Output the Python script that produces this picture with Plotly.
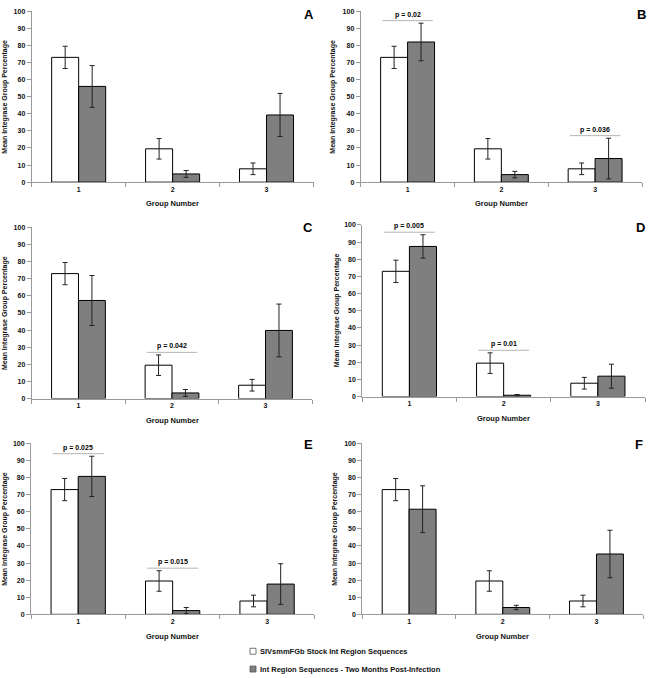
import plotly.graph_objects as go

# ---------------- data ----------------
groups = [1, 2, 3]
group_labels = ["1", "2", "3"]
panels = ["A", "B", "C", "D", "E", "F"]

stock_name = "SIVsmmFGb Stock Int Region Sequences"
post_name = "Int Region Sequences - Two Months Post-Infection"

stock_mean = [73.0, 19.5, 7.8]
stock_err = [6.5, 6.0, 3.4]

post_A = [56.0, 4.8, 39.3]
post_A_err = [12.2, 2.0, 12.6]
post_B = [82.0, 4.4, 13.8]
post_B_err = [11.0, 1.9, 11.9]
post_C = [57.3, 3.3, 39.8]
post_C_err = [14.6, 2.0, 15.4]
post_D = [87.5, 0.8, 11.9]
post_D_err = [6.8, 0.4, 7.0]
post_E = [80.7, 2.2, 17.7]
post_E_err = [11.8, 1.8, 11.9]
post_F = [61.5, 4.0, 35.3]
post_F_err = [13.7, 1.3, 13.9]

post_means = {"A": post_A, "B": post_B, "C": post_C, "D": post_D, "E": post_E, "F": post_F}
post_errs = {"A": post_A_err, "B": post_B_err, "C": post_C_err, "D": post_D_err,
             "E": post_E_err, "F": post_F_err}

p_groups = {"B": [1, 3], "C": [2], "D": [1, 2], "E": [1, 2]}
p_texts = {"B": ["p = 0.02", "p = 0.036"], "C": ["p = 0.042"],
           "D": ["p = 0.005", "p = 0.01"], "E": ["p = 0.025", "p = 0.015"]}

y_ticks = [0, 10, 20, 30, 40, 50, 60, 70, 80, 90, 100]

# ---------------- layout geometry (pixels) ----------------
W, H = 650, 678
# left, right, top(y=100), bottom(y=0)
boxes = {
    "A": (31.7, 313.5, 7.3, 180.0),
    "B": (360.7, 642.0, 7.3, 180.0),
    "C": (31.7, 312.3, 225.7, 398.7),
    "D": (362.3, 645.0, 223.3, 396.7),
    "E": (31.0, 314.3, 444.0, 616.7),
    "F": (362.3, 643.3, 444.0, 616.7),
}
letter_pos = {"A": (308.5, 10.5), "B": (641, 11), "C": (308.3, 226),
              "D": (640, 226), "E": (308, 445), "F": (639, 445)}
ytitle_x = {"A": 5, "B": 333, "C": 5, "D": 336.5, "E": 5, "F": 335}

FONT = "Liberation Sans, Arial, sans-serif"
AXIS_COLOR = "#9a9a9a"
BAR_GRAY = "#7f7f7f"
ERR_COLOR = "#222222"
TXT = "#111111"

fig = go.Figure()
shapes = []
annotations = []

for i, p in enumerate(panels):
    n = "" if i == 0 else str(i + 1)
    xa, ya = "x" + n, "y" + n
    fig.add_trace(go.Bar(
        x=groups, y=stock_mean, name=stock_name, xaxis=xa, yaxis=ya,
        marker=dict(color="white", line=dict(color="black", width=1)),
        error_y=dict(type="data", array=stock_err, color=ERR_COLOR, thickness=1, width=2.5),
        showlegend=False,
    ))
    fig.add_trace(go.Bar(
        x=groups, y=post_means[p], name=post_name, xaxis=xa, yaxis=ya,
        marker=dict(color=BAR_GRAY, line=dict(color="black", width=1)),
        error_y=dict(type="data", array=post_errs[p], color=ERR_COLOR, thickness=1, width=2.5),
        showlegend=False,
    ))
    l, r, t, b = boxes[p]
    xdom = [l / W, r / W]
    ydom = [1 - b / H, 1 - t / H]
    fig.update_layout(**{
        "xaxis" + n: dict(
            domain=xdom, anchor=ya, range=[0.5, 3.5],
            tickmode="array", tickvals=groups, ticktext=group_labels, ticks="",
            showline=True, linecolor=AXIS_COLOR, linewidth=1,
            showgrid=False, zeroline=False,
            tickfont=dict(family=FONT, size=7, color=TXT, weight="bold"),
            minor=dict(tickmode="array", tickvals=[0.5, 1.5, 2.5, 3.5], ticks="outside",
                       ticklen=4, tickcolor=AXIS_COLOR, showgrid=False),
            fixedrange=True,
        ),
        "yaxis" + n: dict(
            domain=ydom, anchor=xa, range=[0, 100],
            tickmode="array", tickvals=y_ticks, ticks="outside", ticklen=4,
            tickcolor=AXIS_COLOR, showline=True, linecolor=AXIS_COLOR, linewidth=1,
            showgrid=False, zeroline=False,
            tickfont=dict(family=FONT, size=7, color=TXT, weight="bold"),
            fixedrange=True,
        ),
    })
    # panel letter
    lx, ly = letter_pos[p]
    annotations.append(dict(text=p, x=lx / W, y=1 - ly / H, xref="paper", yref="paper",
                            showarrow=False, xanchor="center", yanchor="middle",
                            font=dict(family=FONT, size=13, color="black", weight="bold")))
    # axis titles
    annotations.append(dict(text="Mean Integrase Group Percentage", x=ytitle_x[p] / W,
                            y=(ydom[0] + ydom[1]) / 2, xref="paper", yref="paper",
                            textangle=-90, showarrow=False, xanchor="center", yanchor="middle",
                            font=dict(family=FONT, size=7, color=TXT, weight="bold")))
    annotations.append(dict(text="Group Number", x=(xdom[0] + xdom[1]) / 2,
                            y=1 - (b + 22) / H, xref="paper", yref="paper",
                            showarrow=False, xanchor="center", yanchor="middle",
                            font=dict(family=FONT, size=7.5, color=TXT, weight="bold")))
    # significance brackets
    for g, txt in zip(p_groups.get(p, []), p_texts.get(p, [])):
        k = groups.index(g)
        top = max(stock_mean[k] + stock_err[k], post_means[p][k] + post_errs[p][k])
        yl = top + 1.5
        shapes.append(dict(type="line", xref=xa, yref=ya, x0=g - 0.27, x1=g + 0.27,
                           y0=yl, y1=yl, line=dict(color="#b5b5b5", width=1)))
        annotations.append(dict(text=txt, x=g, y=yl, xref=xa, yref=ya, showarrow=False,
                                xanchor="center", yanchor="bottom", yshift=0,
                                font=dict(family=FONT, size=7, color="black", weight="bold")))

# legend (drawn manually)
legend_items = [(stock_name, "white", 654), (post_name, BAR_GRAY, 672)]
for name, color, yc in legend_items:
    shapes.append(dict(type="rect", xref="paper", yref="paper",
                       x0=250 / W, x1=256 / W, y0=1 - (yc + 3) / H, y1=1 - (yc - 3) / H,
                       fillcolor=color, line=dict(color="#555", width=0.8)))
    annotations.append(dict(text=name, x=257.5 / W, y=1 - yc / H, xref="paper", yref="paper",
                            showarrow=False, xanchor="left", yanchor="middle",
                            font=dict(family=FONT, size=7.5, color=TXT, weight="bold")))

fig.update_layout(
    width=W, height=H, margin=dict(l=0, r=0, t=0, b=0),
    paper_bgcolor="white", plot_bgcolor="white",
    barmode="group", bargap=0.425, bargroupgap=0,
    showlegend=False, shapes=shapes, annotations=annotations,
    font=dict(family=FONT),
)

fig.write_html(
    "out.html",
    config={"displayModeBar": False, "staticPlot": True},
    post_script="document.body.style.margin='0';document.body.style.padding='0';"
                "document.documentElement.style.overflow='hidden';",
)
